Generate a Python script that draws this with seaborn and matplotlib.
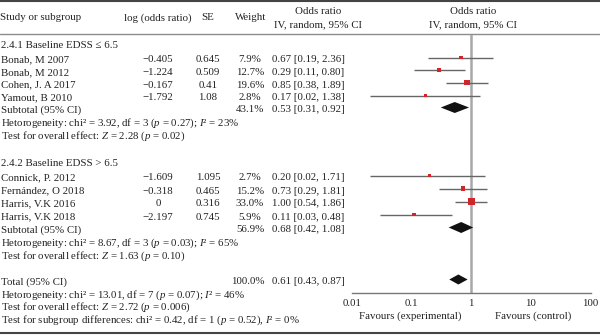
import numpy as np
import pandas as pd
import matplotlib
matplotlib.use("Agg")
import matplotlib.pyplot as plt
import seaborn as sns

# ---------------- data ----------------
studies = ["Bonab, M 2007", "Bonab, M 2012", "Cohen, J. A 2017", "Yamout, B 2010",
           "Connick, P. 2012", "Fernández, O 2018", "Harris, V.K 2016", "Harris, V.K 2018"]
groups = ["2.4.1", "2.4.1", "2.4.1", "2.4.1", "2.4.2", "2.4.2", "2.4.2", "2.4.2"]
log_or = ["−0.405", "−1.224", "−0.167", "−1.792", "−1.609", "−0.318", "0", "−2.197"]
se = ["0.645", "0.509", "0.41", "1.08", "1.095", "0.465", "0.316", "0.745"]
weight = [7.9, 12.7, 19.6, 2.8, 2.7, 15.2, 33.0, 5.9]
or_est = [0.67, 0.29, 0.85, 0.17, 0.20, 0.73, 1.00, 0.11]
or_lo = [0.19, 0.11, 0.38, 0.02, 0.02, 0.29, 0.54, 0.03]
or_hi = [2.36, 0.80, 1.89, 1.38, 1.71, 1.81, 1.86, 0.48]

group_titles = ["2.4.1 Baseline EDSS ≤ 6.5", "2.4.2 Baseline EDSS > 6.5"]
sub_weight = ["43.1%", "56.9%"]
sub_est = [0.53, 0.68]
sub_lo = [0.31, 0.42]
sub_hi = [0.92, 1.08]
sub_het = ["Hetorogeneity: chi² = 3.92, df = 3 ($p$ = 0.27); $I$² = 23%",
           "Hetorogeneity: chi² = 8.67, df = 3 ($p$ = 0.03); $I$² = 65%"]
sub_z = ["Test for overall effect: $Z$ = 2.28 ($p$ = 0.02)",
         "Test for overall effect: $Z$ = 1.63 ($p$ = 0.10)"]

total_est, total_lo, total_hi = 0.61, 0.43, 0.87
total_lines = ["Hetorogeneity: chi² = 13.01, df = 7 ($p$ = 0.07); $I$² = 46%",
               "Test for overall effect: $Z$ = 2.72 ($p$ = 0.006)",
               "Test for subgroup differences: chi² = 0.42, df = 1 ($p$ = 0.52), $I$² = 0%"]

xticks = [0.01, 0.1, 1, 10, 100]
xticklabels = ["0.01", "0.1", "1", "10", "100"]

# ---------------- style ----------------
sns.set_style("white")
plt.rcParams["font.family"] = ["Liberation Serif", "DejaVu Serif"]
plt.rcParams["mathtext.fontset"] = "custom"
plt.rcParams["mathtext.rm"] = "Liberation Serif"
plt.rcParams["mathtext.it"] = "Liberation Serif:italic"
FS = 7.8
TXT = "#222222"
RED = "#d0262b"

W, H = 600, 335
fig = plt.figure(figsize=(6, 3.35), dpi=100)
bg = fig.add_axes([0, 0, 1, 1])
bg.set_xlim(0, W)
bg.set_ylim(H, 0)
bg.axis("off")

# forest axes in pixel geometry
fx0, fx1 = 351.7, 590.7
fy_top, fy_bot = 35, 292.5
ax = fig.add_axes([fx0 / W, (H - fy_bot) / H, (fx1 - fx0) / W, (fy_bot - fy_top) / H])
ax.set_xscale("log")
ax.set_xlim(0.01, 100)
ax.set_ylim(fy_bot, fy_top)
ax.patch.set_alpha(0)

# row layout (pixel y of text centres)
study_rows = [60, 72.5, 85, 98, 178, 191, 204, 217]
title_rows = [46, 163]
sub_rows = [110, 230]
het_rows = [123, 243]
z_rows = [136, 256]
total_row = 282
total_text_rows = [295, 307.5, 320]
MOFF = -2.5  # marker offset relative to text centre

# header
bg.plot([0, W], [1, 1], color="#444444", lw=1.5)
bg.plot([0, W], [34, 34], color="#8c8c8c", lw=1.0)
bg.plot([0, W], [332.5, 332.5], color="#444444", lw=1.5)
hy = 18
bg.text(0, hy, "Study or subgroup", fontsize=FS, va="center", ha="left", color=TXT)
bg.text(158, hy, "log (odds ratio)", fontsize=FS, va="center", ha="center", color=TXT)
bg.text(208, hy, "SE", fontsize=FS, va="center", ha="center", color=TXT)
bg.text(251, hy, "Weight", fontsize=FS, va="center", ha="center", color=TXT)
for cx in (318, 473):
    bg.text(cx, 11.5, "Odds ratio", fontsize=FS, va="center", ha="center", color=TXT)
    bg.text(cx, 24.5, "IV, random, 95% CI", fontsize=FS, va="center", ha="center", color=TXT)

def or_text(e, lo, hi):
    return f"{e:.2f} [{lo:.2f}, {hi:.2f}]"

# study rows
for i, name in enumerate(studies):
    y = study_rows[i]
    bg.text(1, y, name, fontsize=FS, va="center", ha="left", color=TXT)
    bg.text(158, y, log_or[i], fontsize=FS, va="center", ha="center", color=TXT)
    bg.text(208, y, se[i], fontsize=FS, va="center", ha="center", color=TXT)
    bg.text(250, y, f"{weight[i]:.1f}%", fontsize=FS, va="center", ha="center", color=TXT)
    bg.text(272, y, or_text(or_est[i], or_lo[i], or_hi[i]), fontsize=FS, va="center", ha="left", color=TXT)

for g in range(2):
    bg.text(1, title_rows[g], group_titles[g], fontsize=FS, va="center", ha="left", color=TXT)
    bg.text(1, sub_rows[g], "Subtotal (95% CI)", fontsize=FS, va="center", ha="left", color=TXT)
    bg.text(250, sub_rows[g], sub_weight[g], fontsize=FS, va="center", ha="center", color=TXT)
    bg.text(272, sub_rows[g], or_text(sub_est[g], sub_lo[g], sub_hi[g]), fontsize=FS, va="center", ha="left", color=TXT)
    bg.text(1, het_rows[g], sub_het[g], fontsize=FS, va="center", ha="left", color=TXT)
    bg.text(1, z_rows[g], sub_z[g], fontsize=FS, va="center", ha="left", color=TXT)

bg.text(1, total_row, "Total (95% CI)", fontsize=FS, va="center", ha="left", color=TXT)
bg.text(248, total_row, "100.0%", fontsize=FS, va="center", ha="center", color=TXT)
bg.text(272, total_row, or_text(total_est, total_lo, total_hi), fontsize=FS, va="center", ha="left", color=TXT)
for t, y in zip(total_lines, total_text_rows):
    bg.text(1, y, t, fontsize=FS, va="center", ha="left", color=TXT)

# forest plot
ax.axvline(1, color="#a8a8a8", lw=1.8, zorder=1)
ys = [r + MOFF for r in study_rows]
ax.hlines(ys, or_lo, or_hi, color="#666666", lw=1.0, zorder=2)
df = pd.DataFrame({"est": or_est, "y": ys, "w": weight})
sns.scatterplot(data=df, x="est", y="y", size="w", sizes=(3, 23), size_norm=(0, 33),
                marker="s", color=RED, edgecolor="none", legend=False, ax=ax, zorder=3)

def diamond(e, lo, hi, y, h=5.5):
    ax.fill([lo, e, hi, e], [y, y - h, y, y + h], color="#111111", lw=0, zorder=4)

for g in range(2):
    diamond(sub_est[g], sub_lo[g], sub_hi[g], sub_rows[g] + MOFF)
diamond(total_est, total_lo, total_hi, total_row + MOFF, h=5)

for s in ("top", "right", "left"):
    ax.spines[s].set_visible(False)
ax.spines["bottom"].set_color("#777777")
ax.spines["bottom"].set_linewidth(1.0)
ax.set_yticks([])
ax.set_xticks(xticks)
ax.set_xticklabels(xticklabels)
ax.minorticks_off()
ax.tick_params(axis="x", which="major", direction="out", length=3, width=0.8,
               color="#777777", labelsize=FS, labelcolor=TXT, pad=1.5)
ax.set_xlabel("")
ax.set_ylabel("")

bg.text(410, 316, "Favours (experimental)", fontsize=FS, va="center", ha="center", color=TXT)
bg.text(533, 316, "Favours (control)", fontsize=FS, va="center", ha="center", color=TXT)

fig.savefig("out.png", dpi=100)
